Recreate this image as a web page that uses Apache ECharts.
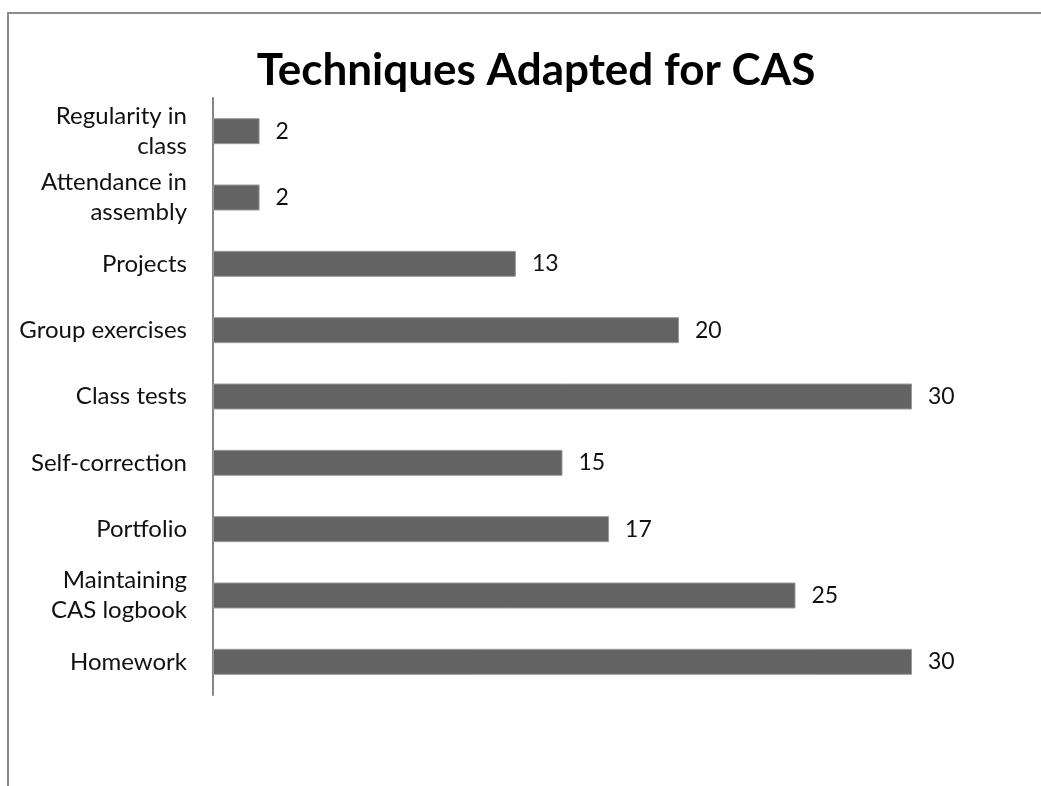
<!DOCTYPE html>
<html>
<head>
<meta charset="utf-8">
<style>
  html, body { margin: 0; padding: 0; background: #fff; }
  #chart { width: 1041px; height: 786px; }
</style>
<script src="https://cdn.jsdelivr.net/npm/echarts@6/dist/echarts.min.js"></script>
</head>
<body>
<div id="chart"></div>
<script>
// Techniques, listed bottom-to-top as they appear on the category axis
const categories = [
  'Homework',
  'Maintaining\nCAS logbook',
  'Portfolio',
  'Self-correction',
  'Class tests',
  'Group exercises',
  'Projects',
  'Attendance in\nassembly',
  'Regularity in\nclass'
];
const counts = [30, 25, 17, 15, 30, 20, 13, 2, 2];

const FONT = 'Lato, "Open Sans", sans-serif';

const chart = echarts.init(document.getElementById('chart'), null, { renderer: 'canvas' });
chart.setOption({
  animation: false,
  backgroundColor: '#ffffff',
  title: {
    text: 'Techniques Adapted for CAS',
    left: 531,
    top: 44,
    textAlign: 'center',
    textStyle: { fontFamily: FONT, fontSize: 44, fontWeight: 'bold', color: '#000' }
  },
  graphic: [{
    type: 'rect',
    shape: { x: 8, y: 13, width: 1100, height: 800 },
    style: { fill: 'none', stroke: '#8c8c8c', lineWidth: 2 },
    silent: true
  }],
  grid: { left: 213, top: 98, width: 699, height: 597 },
  xAxis: {
    type: 'value',
    min: 0,
    max: 30,
    show: false
  },
  yAxis: {
    type: 'category',
    data: categories,
    axisLine: { show: true, lineStyle: { color: '#868686', width: 2 } },
    axisTick: { show: false },
    axisLabel: {
      margin: 26,
      fontFamily: FONT,
      fontSize: 24,
      lineHeight: 30,
      color: '#111',
      align: 'right'
    },
    splitLine: { show: false }
  },
  series: [{
    type: 'bar',
    data: counts,
    barWidth: 26,
    itemStyle: { color: '#636363', borderColor: '#9a9a9a', borderWidth: 1 },
    label: {
      show: true,
      position: 'right',
      distance: 16,
      fontFamily: FONT,
      fontSize: 23,
      color: '#111'
    }
  }]
});
</script>
</body>
</html>
